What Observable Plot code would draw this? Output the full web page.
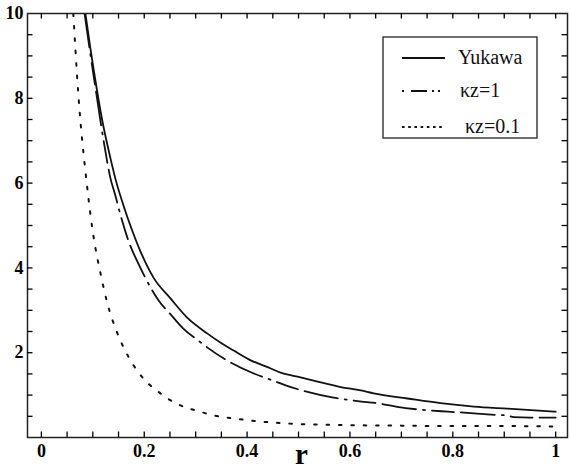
<!DOCTYPE html>
<html>
<head>
<meta charset="utf-8">
<script src="https://cdn.jsdelivr.net/npm/d3@7"></script>
<script src="https://cdn.jsdelivr.net/npm/@observablehq/plot@0.6"></script>
<style>
  html, body { margin: 0; padding: 0; background: #fff; }
  #chart svg { display: block; }
</style>
</head>
<body>
<div id="chart"></div>
<script>
// ---- data ----
const yukawaR = [0.0856, 0.095, 0.102, 0.118, 0.134, 0.144, 0.163, 0.173, 0.193, 0.218, 0.251, 0.284, 0.323, 0.348, 0.374, 0.407, 0.44, 0.465, 0.504, 0.543, 0.582, 0.621, 0.646, 0.712, 0.776, 0.841, 0.906, 1.0];
const yukawaV = [10, 9.2, 8.65, 7.5, 6.6, 6.1, 5.35, 5.0, 4.38, 3.77, 3.28, 2.82, 2.45, 2.24, 2.05, 1.82, 1.66, 1.53, 1.42, 1.30, 1.19, 1.11, 1.04, 0.92, 0.81, 0.73, 0.68, 0.61];

const kz1R = [0.084, 0.097, 0.103, 0.121, 0.134, 0.144, 0.154, 0.167, 0.193, 0.202, 0.228, 0.253, 0.276, 0.309, 0.323, 0.358, 0.413, 0.444, 0.475, 0.568, 0.615, 0.658, 0.689, 0.751, 0.790, 0.841, 0.875, 0.906, 0.918, 0.95, 1.0];
const kz1V = [10, 8.9, 8.42, 7.0, 6.13, 5.7, 5.24, 4.72, 3.99, 3.77, 3.23, 2.88, 2.57, 2.25, 2.12, 1.84, 1.51, 1.37, 1.23, 0.94, 0.86, 0.80, 0.73, 0.64, 0.61, 0.57, 0.54, 0.52, 0.48, 0.47, 0.47];

const kz01R = [0.062, 0.065, 0.069, 0.074, 0.079, 0.085, 0.091, 0.099, 0.109, 0.115, 0.128, 0.147, 0.170, 0.186, 0.202, 0.222, 0.243, 0.266, 0.288, 0.311, 0.335, 0.361, 0.407, 0.478, 0.556, 0.60, 0.70, 0.80, 0.90, 1.0];
const kz01V = [10, 9.4, 8.6, 7.75, 7.05, 6.35, 5.7, 4.93, 4.22, 3.87, 3.18, 2.48, 1.89, 1.58, 1.34, 1.13, 0.94, 0.78, 0.68, 0.60, 0.52, 0.47, 0.40, 0.33, 0.30, 0.29, 0.28, 0.27, 0.27, 0.26];

const seriesNames = ["Yukawa", "\u03bAz=1", "\u03bAz=0.1"];
const xTickLabels = [0, 0.2, 0.4, 0.6, 0.8, 1];
const xTickText = ["0", "0.2", "0.4", "0.6", "0.8", "1"];
const yTickLabels = [2, 4, 6, 8, 10];
const xMinorTicks = [0, 0.05, 0.1, 0.15, 0.2, 0.25, 0.3, 0.35, 0.4, 0.45, 0.5, 0.55, 0.6, 0.65, 0.7, 0.75, 0.8, 0.85, 0.9, 0.95, 1];
const yMinorTicks = [0.5, 1, 1.5, 2, 2.5, 3, 3.5, 4, 4.5, 5, 5.5, 6, 6.5, 7, 7.5, 8, 8.5, 9, 9.5];

// ---- build ----
const mk = (R, V, s) => R.map((r, i) => ({ r, v: V[i], s }));
const yuk = mk(yukawaR, yukawaV, seriesNames[0]);
const k1 = mk(kz1R, kz1V, seriesNames[1]);
const k01 = mk(kz01R, kz01V, seriesNames[2]);

const W = 570, H = 470, ML = 27, MR = 3, MT = 13, MB = 33;
const XD = [-0.027, 1.023], YD = [0, 10];
// tick length of ~5.5px expressed in domain units
const tlx = 5.5 * (XD[1] - XD[0]) / (W - ML - MR);
const tly = 5.5 * (YD[1] - YD[0]) / (H - MT - MB);
const tk = { stroke: "#000", strokeWidth: 1.3 };

const plot = Plot.plot({
  width: W,
  height: H,
  marginLeft: ML,
  marginRight: MR,
  marginTop: MT,
  marginBottom: MB,
  style: { fontFamily: "'Liberation Serif', 'Times New Roman', serif", fontSize: "18px", background: "#fff", overflow: "visible" },
  x: { domain: XD },
  y: { domain: YD },
  marks: [
    Plot.line(yuk, { x: "r", y: "v", stroke: "#111", strokeWidth: 1.8, curve: "monotone-x", clip: true }),
    Plot.line(k1, { x: "r", y: "v", stroke: "#111", strokeWidth: 1.8, curve: "monotone-x", strokeDasharray: "34,7,2,7,22,7", clip: true }),
    Plot.line(k01, { x: "r", y: "v", stroke: "#111", strokeWidth: 2, curve: "monotone-x", strokeDasharray: "2.6,9.8", clip: true }),
    Plot.frame({ stroke: "#222", strokeWidth: 1.5 }),
    Plot.ruleX(xMinorTicks, { x: d => d, y1: YD[0], y2: YD[0] + tly, ...tk }),
    Plot.ruleX(xMinorTicks, { x: d => d, y1: YD[1], y2: YD[1] - tly, ...tk }),
    Plot.ruleY(yMinorTicks, { y: d => d, x1: XD[0], x2: XD[0] + tlx, ...tk }),
    Plot.ruleY(yMinorTicks, { y: d => d, x1: XD[1], x2: XD[1] - tlx, ...tk }),
    Plot.axisX({ ticks: xTickLabels, tickSize: 0, tickPadding: 7, tickFormat: d => xTickText[xTickLabels.indexOf(d)], fontWeight: "bold", fontSize: 18, label: null }),
    Plot.axisY({ ticks: yTickLabels, tickSize: 0, tickPadding: 4, fontWeight: "bold", fontSize: 18, label: null }),
    Plot.text(["r"], { x: 0.5, frameAnchor: "bottom", dx: 3, dy: 26, fontSize: 29, fontWeight: "bold", lineAnchor: "bottom" })
  ]
});

document.getElementById("chart").appendChild(plot);

const svg = d3.select(plot);

// ---- legend box inside the plot ----
const lg = svg.append("g").attr("class", "legend").attr("text-anchor", "start");
lg.append("rect").attr("x", 383).attr("y", 37).attr("width", 154).attr("height", 101)
  .attr("fill", "#fff").attr("stroke", "#333").attr("stroke-width", 1.4);
const items = [
  { name: seriesNames[0], dash: null, w: 1.8, y: 58, tx: 458 },
  { name: seriesNames[1], dash: "2,7,16,5,2,4,2,7", w: 1.8, y: 91, tx: 460 },
  { name: seriesNames[2], dash: "2.6,3.6", w: 2, y: 127, tx: 465 }
];
items.forEach(it => {
  const ln = lg.append("line").attr("x1", 402).attr("x2", 445).attr("y1", it.y).attr("y2", it.y)
    .attr("stroke", "#111").attr("stroke-width", it.w);
  if (it.dash) ln.attr("stroke-dasharray", it.dash);
  lg.append("text").attr("x", it.tx).attr("y", it.y + 6)
    .attr("text-anchor", "start")
    .attr("font-family", "'Liberation Serif', 'Times New Roman', serif")
    .attr("font-size", 20).attr("fill", "#111").text(it.name);
});
</script>
</body>
</html>
